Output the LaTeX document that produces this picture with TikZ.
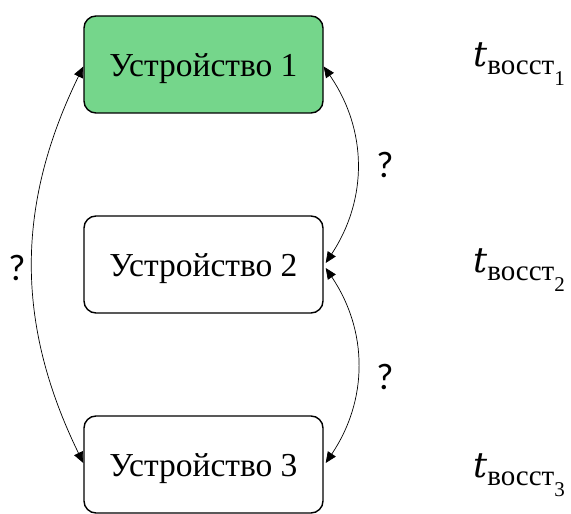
\documentclass[tikz,border=0pt]{standalone}
\usepackage{fontspec}
\setmainfont{Liberation Serif}
\newfontfamily\qfont{Carlito}
\newfontfamily\tfont{DejaVu Serif}
\usetikzlibrary{arrows.meta}
\definecolor{devgreen}{RGB}{117,214,139}
\tikzset{
  device/.style={draw, line width=1.4pt, rounded corners=12pt,
    minimum width=239pt, minimum height=97pt, inner sep=0pt,
    text height=25pt, text depth=0pt,
    font=\fontsize{33.5}{33.5}\selectfont},
  link/.style={line width=0.7pt, {Triangle[length=11pt,width=9.5pt]}-{Triangle[length=11pt,width=9.5pt]}},
  qmark/.style={font=\qfont\fontsize{37}{37}\selectfont, inner sep=0pt},
  tlabel/.style={anchor=base west, inner sep=0pt}
}
% recovery time label: t with a two-level subscript
\newcommand{\trec}[1]{{\tfont\fontsize{35}{35}\selectfont\itshape t}\raisebox{-8pt}{\fontsize{29}{29}\selectfont восст\raisebox{-11pt}{\fontsize{21}{21}\selectfont #1}}}
\begin{document}
\begin{tikzpicture}[x=1pt,y=1pt]
  \useasboundingbox (0,0) rectangle (571,514);
  % devices
  \node[device, fill=devgreen] (b1) at (203.5,449.5) {Устройство 1};
  \node[device] (b2) at (203.5,249.5) {Устройство 2};
  \node[device] (b3) at (203.5,49.5) {Устройство 3};
  % links between devices
  \coordinate (b1e) at ([yshift=-2pt]b1.east);
  \coordinate (b1w) at ([yshift=-2pt]b1.west);
  \coordinate (b2eu) at ([xshift=2pt,yshift=1.5pt]b2.east);
  \coordinate (b2ed) at ([xshift=2pt,yshift=-3.5pt]b2.east);
  \coordinate (b3e) at ([xshift=2pt,yshift=1.5pt]b3.east);
  \coordinate (b3w) at ([yshift=1.5pt]b3.west);
  \draw[link] (b1e) to[bend left=34] (b2eu);
  \draw[link] (b2ed) to[bend left=34] (b3e);
  \draw[link] (b1w) to[bend right=26] (b3w);
  % question marks
  \node[qmark] (q1) at (385,349) {?};
  \node[qmark] (q2) at (385,137) {?};
  \node[qmark] (q3) at (17,246) {?};
  % recovery time labels
  \node[tlabel] (t1) at (473,447) {\trec{1}};
  \node[tlabel] (t2) at (473,241) {\trec{2}};
  \node[tlabel] (t3) at (473,36) {\trec{3}};
\end{tikzpicture}
\end{document}
